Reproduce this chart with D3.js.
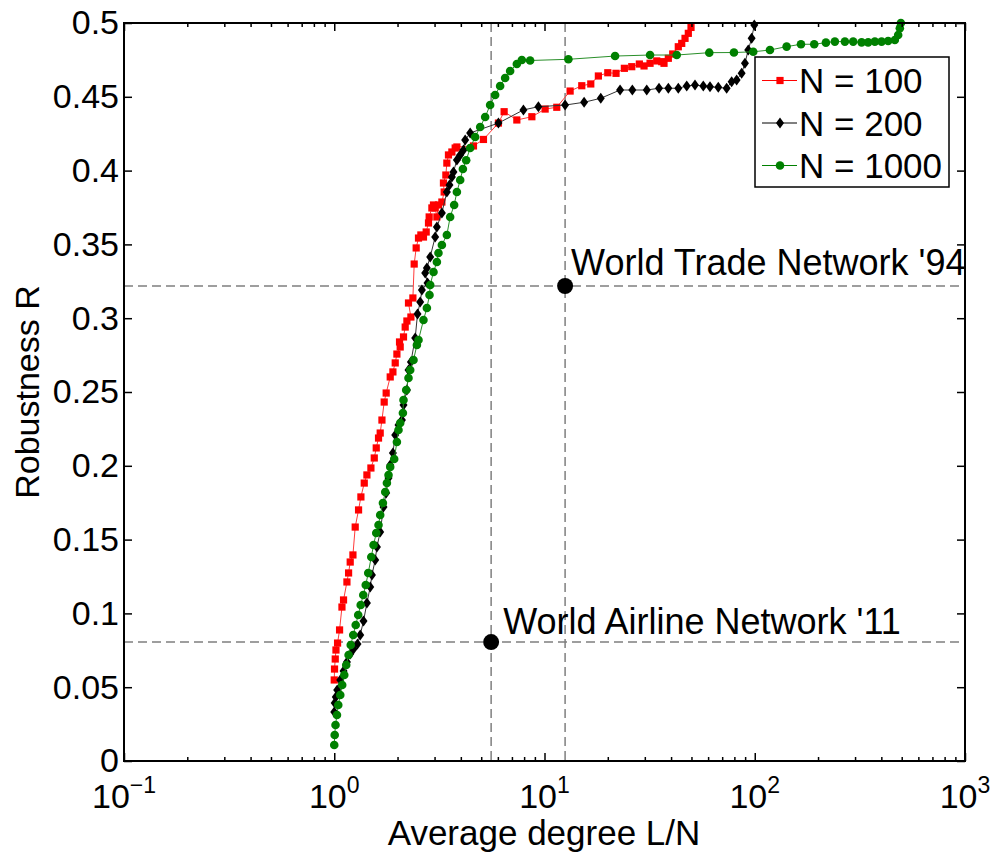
<!DOCTYPE html>
<html>
<head>
<meta charset="utf-8">
<script src="https://cdn.jsdelivr.net/npm/d3@7"></script>
<style>
  html, body { margin: 0; padding: 0; background: #fff; }
  svg text { font-family: "Liberation Sans", Arial, Helvetica, sans-serif; fill: #000; }
</style>
</head>
<body>
<svg id="chart" width="994" height="853"></svg>
<script>
// Robustness R versus average degree L/N for three network sizes
const n100 = [
  [1.000,0.0549],[1.003,0.0623],[1.011,0.0691],[1.019,0.0752],[1.037,0.0799],[1.060,0.0888],
  [1.088,0.1043],[1.107,0.1091],[1.149,0.1213],[1.170,0.1274],[1.191,0.1348],[1.227,0.1396],
  [1.258,0.1585],[1.305,0.1701],[1.339,0.1789],[1.389,0.1883],[1.430,0.1938],[1.494,0.1985],
  [1.550,0.2053],[1.584,0.2121],[1.624,0.2188],[1.654,0.2222],[1.686,0.2310],[1.728,0.2432],
  [1.766,0.2493],[1.846,0.2602],[1.901,0.2636],[1.950,0.2697],[1.986,0.2757],[2.059,0.2805],
  [2.044,0.2839],[2.135,0.2873],[2.175,0.2940],[2.216,0.2981],[2.315,0.3008],[2.255,0.3103],
  [2.366,0.3137],[2.400,0.3367],[2.453,0.3476],[2.516,0.3543],[2.582,0.3564],[2.657,0.3550],
  [2.737,0.3584],[2.807,0.3645],[2.828,0.3686],[2.913,0.3747],[2.965,0.3767],[3.020,0.3747],
  [3.077,0.3686],[3.131,0.3767],[3.250,0.3787],[3.333,0.3855],[3.307,0.3916],[3.395,0.3970],
  [3.432,0.4051],[3.493,0.4106],[3.626,0.4126],[3.760,0.4153],[3.831,0.4160],[4.594,0.4167],
  [5.125,0.4211],[6.038,0.4322],[6.427,0.4399],[7.386,0.4343],[8.707,0.4365],[10.07,0.4417],
  [11.44,0.4429],[13.24,0.4539],[15.04,0.4575],[16.60,0.4587],[18.04,0.4641],[20.00,0.4663],
  [21.89,0.4659],[23.98,0.4693],[26.00,0.4704],[28.26,0.4722],[29.75,0.4709],[31.77,0.4727],
  [34.18,0.4743],[36.10,0.4738],[37.02,0.4727],[38.81,0.4761],[40.72,0.4790],[43.29,0.4839],
  [44.94,0.4862],[46.60,0.4896],[48.31,0.4930],[49.76,0.4970]
];

const n200 = [
  [1.000,0.0332],[1.005,0.0393],[1.017,0.0434],[1.033,0.0481],[1.068,0.0549],[1.107,0.0610],
  [1.149,0.0671],[1.191,0.0725],[1.235,0.0759],[1.290,0.0793],[1.329,0.0854],[1.378,0.0949],
  [1.430,0.1070],[1.483,0.1179],[1.511,0.1260],[1.566,0.1362],[1.596,0.1450],[1.654,0.1551],
  [1.715,0.1721],[1.766,0.1816],[1.812,0.1917],[1.846,0.2005],[1.901,0.2087],[1.950,0.2209],
  [2.021,0.2276],[2.098,0.2310],[2.135,0.2412],[2.216,0.2514],[2.255,0.2649],[2.315,0.2703],
  [2.427,0.2866],[2.489,0.3028],[2.563,0.3110],[2.611,0.3191],[2.777,0.3238],[2.707,0.3306],
  [2.758,0.3340],[2.860,0.3415],[3.020,0.3550],[3.077,0.3618],[3.250,0.3713],[3.432,0.3855],
  [3.532,0.3902],[3.626,0.3957],[3.690,0.3991],[3.831,0.4072],[3.972,0.4106],[4.118,0.4140],
  [4.195,0.4207],[4.431,0.4255],[6.038,0.4322],[7.940,0.4411],[9.354,0.4433],[12.53,0.4444],
  [15.43,0.4463],[18.52,0.4490],[22.88,0.4546],[26.17,0.4546],[30.64,0.4546],[35.05,0.4558],
  [38.81,0.4558],[43.29,0.4558],[47.47,0.4573],[51.97,0.4580],[56.91,0.4573],[61.25,0.4568],
  [67.07,0.4564],[73.51,0.4558],[77.65,0.4602],[82.01,0.4614],[86.62,0.4659],[89.81,0.4727],
  [93.12,0.4817],[96.65,0.4896],[99.50,0.4986]
];

const n1000 = [
  [1.000,0.0108],[1.005,0.0176],[1.014,0.0244],[1.030,0.0312],[1.045,0.0379],[1.068,0.0447],
  [1.091,0.0515],[1.116,0.0583],[1.140,0.0650],[1.170,0.0718],[1.198,0.0786],[1.231,0.0854],
  [1.265,0.0921],[1.300,0.0989],[1.336,0.1057],[1.374,0.1125],[1.412,0.1192],[1.451,0.1274],
  [1.500,0.1382],[1.538,0.1463],[1.584,0.1545],[1.624,0.1599],[1.654,0.1667],[1.704,0.1748],
  [1.748,0.1823],[1.780,0.1883],[1.812,0.1938],[1.846,0.1992],[1.928,0.2046],[1.986,0.2161],
  [2.021,0.2243],[2.059,0.2290],[2.121,0.2358],[2.135,0.2446],[2.199,0.2514],[2.255,0.2595],
  [2.298,0.2649],[2.382,0.2717],[2.472,0.2818],[2.516,0.2852],[2.657,0.2988],[2.758,0.3069],
  [2.838,0.3157],[2.860,0.3225],[2.965,0.3313],[3.077,0.3381],[3.131,0.3442],[3.250,0.3496],
  [3.432,0.3564],[3.559,0.3686],[3.718,0.3767],[3.831,0.3855],[3.972,0.3936],[4.091,0.4011],
  [4.241,0.4070],[4.431,0.4153],[4.680,0.4228],[4.943,0.4295],[5.221,0.4363],[5.513,0.4444],
  [5.824,0.4512],[6.152,0.4573],[6.497,0.4627],[6.864,0.4675],[7.386,0.4722],[7.801,0.4749],
  [8.543,0.4746],[12.99,0.4754],[21.66,0.4776],[31.77,0.4783],[42.54,0.4783],[60.77,0.4799],
  [79.62,0.4800],[98.38,0.4805],[118.1,0.4817],[141.8,0.4840],[165.9,0.4856],[191.8,0.4856],
  [218.0,0.4867],[240.5,0.4874],[268.4,0.4874],[293.9,0.4874],[322.3,0.4869],[346.3,0.4869],
  [372.6,0.4874],[401.1,0.4874],[431.0,0.4878],[463.8,0.4885],[481.0,0.4919],[489.9,0.4964],
  [495.4,0.5000]
];

// Real-world networks marked on the chart
const realNetworks = [
  { name: "World Airline Network '11", degree: 5.574, robustness: 0.0806 },
  { name: "World Trade Network '94", degree: 12.53, robustness: 0.3218 }
];

const seriesNames = ["N = 100", "N = 200", "N = 1000"];
const yTickValues = [0, 0.05, 0.1, 0.15, 0.2, 0.25, 0.3, 0.35, 0.4, 0.45, 0.5];
const yTickLabels = ["0", "0.05", "0.1", "0.15", "0.2", "0.25", "0.3", "0.35", "0.4", "0.45", "0.5"];
const xDecades = [0.1, 1, 10, 100, 1000];
const xExponents = ["\u22121", "0", "1", "2", "3"];

const svg = d3.select("#chart");
const plotLeft = 124, plotRight = 965, plotTop = 23, plotBottom = 761;

const x = d3.scaleLog().domain([0.1, 1000]).range([plotLeft, plotRight]);
const y = d3.scaleLinear().domain([0, 0.5]).range([plotBottom, plotTop]);

const minorTicks = [];
for (let d = 0; d < xDecades.length - 1; d++) {
  for (let k = 2; k <= 9; k++) minorTicks.push(xDecades[d] * k);
}

// Reference guides through the real-world networks
const guides = svg.append("g")
  .attr("fill", "none")
  .attr("stroke", "#7f7f7f")
  .attr("stroke-width", 1.5)
  .attr("stroke-dasharray", "9,5");
realNetworks.forEach(p => {
  guides.append("line")
    .attr("x1", x(p.degree)).attr("x2", x(p.degree))
    .attr("y1", plotTop).attr("y2", plotBottom);
  guides.append("line")
    .attr("x1", plotLeft).attr("x2", plotRight)
    .attr("y1", y(p.robustness)).attr("y2", y(p.robustness));
});

// Series styles
const series = [
  { name: seriesNames[0], data: n100, color: "#ff0000", line: "#ff3b3b", marker: "square" },
  { name: seriesNames[1], data: n200, color: "#000000", line: "#333333", marker: "diamond" },
  { name: seriesNames[2], data: n1000, color: "#008000", line: "#2a8f2a", marker: "circle" }
];

function drawMarker(g, type, cx, cy, color) {
  if (type === "square") {
    g.append("rect").attr("x", cx - 3.6).attr("y", cy - 3.6)
      .attr("width", 7.2).attr("height", 7.2).attr("fill", color);
  } else if (type === "diamond") {
    g.append("path")
      .attr("d", `M${cx},${cy - 5.5}L${cx + 4},${cy}L${cx},${cy + 5.5}L${cx - 4},${cy}Z`)
      .attr("fill", color);
  } else {
    g.append("circle").attr("cx", cx).attr("cy", cy).attr("r", 4.3).attr("fill", color);
  }
}

const line = d3.line().x(d => x(d[0])).y(d => y(d[1]));

series.forEach(s => {
  const g = svg.append("g");
  g.append("path")
    .attr("d", line(s.data))
    .attr("fill", "none")
    .attr("stroke", s.line)
    .attr("stroke-width", 1);
  s.data.forEach(d => drawMarker(g, s.marker, x(d[0]), y(d[1]), s.color));
});

// Real-world network points and their names (label offsets in pixels)
const labelOffsets = [[12, -8], [6, -11]];
realNetworks.forEach((p, i) => {
  svg.append("circle")
    .attr("cx", x(p.degree)).attr("cy", y(p.robustness))
    .attr("r", 8).attr("fill", "#000");
  svg.append("text")
    .attr("x", x(p.degree) + labelOffsets[i][0])
    .attr("y", y(p.robustness) + labelOffsets[i][1])
    .attr("font-size", 36)
    .text(p.name);
});

// Axes: ticks point inward on all four sides
const axisStyle = g => {
  g.select(".domain").remove();
  g.selectAll(".tick line").attr("stroke", "#000").attr("stroke-width", 1.5);
};

svg.append("g")
  .attr("transform", `translate(${plotLeft},0)`)
  .call(d3.axisLeft(y).tickValues(yTickValues).tickSize(-8).tickPadding(5)
    .tickFormat((d, i) => yTickLabels[i]))
  .call(axisStyle)
  .call(g => g.selectAll(".tick text").attr("font-size", 34)
    .attr("font-family", "'Liberation Sans', Arial, sans-serif").attr("fill", "#000"));

svg.append("g")
  .attr("transform", `translate(${plotRight},0)`)
  .call(d3.axisRight(y).tickValues(yTickValues).tickSize(-8).tickFormat(""))
  .call(axisStyle);

[[plotBottom, d3.axisBottom], [plotTop, d3.axisTop]].forEach(([pos, axisFn]) => {
  svg.append("g")
    .attr("transform", `translate(0,${pos})`)
    .call(axisFn(x).tickValues(xDecades).tickSize(-8).tickFormat(""))
    .call(axisStyle);
  svg.append("g")
    .attr("transform", `translate(0,${pos})`)
    .call(axisFn(x).tickValues(minorTicks).tickSize(-4).tickFormat(""))
    .call(axisStyle);
});

// Decade labels with superscript exponents
const xLabels = svg.append("g");
xDecades.forEach((d, i) => {
  const t = xLabels.append("text")
    .attr("x", x(d)).attr("y", plotBottom + 47)
    .attr("text-anchor", "middle")
    .attr("font-size", 34);
  t.append("tspan").text("10");
  t.append("tspan").attr("dy", -15).attr("font-size", 23).text(xExponents[i]);
});

// Plot frame
svg.append("rect")
  .attr("x", plotLeft).attr("y", plotTop)
  .attr("width", plotRight - plotLeft).attr("height", plotBottom - plotTop)
  .attr("fill", "none").attr("stroke", "#000").attr("stroke-width", 2);

// Axis titles
svg.append("text")
  .attr("x", 544).attr("y", 845)
  .attr("text-anchor", "middle").attr("font-size", 35)
  .text("Average degree L/N");

svg.append("text")
  .attr("transform", `translate(39,${(plotTop + plotBottom) / 2}) rotate(-90)`)
  .attr("text-anchor", "middle").attr("font-size", 34)
  .text("Robustness R");

// Legend
const legend = svg.append("g");
legend.append("rect")
  .attr("x", 755).attr("y", 57).attr("width", 194).attr("height", 130)
  .attr("fill", "#fff").attr("stroke", "#000").attr("stroke-width", 1.5);
series.forEach((s, i) => {
  const cy = 80.5 + i * 42.5;
  legend.append("line")
    .attr("x1", 762).attr("x2", 797).attr("y1", cy).attr("y2", cy)
    .attr("stroke", s.color).attr("stroke-width", 1);
  drawMarker(legend, s.marker, 780, cy, s.color);
  legend.append("text")
    .attr("x", 799).attr("y", cy + 12.5)
    .attr("font-size", 35)
    .text(s.name);
});
</script>
</body>
</html>
